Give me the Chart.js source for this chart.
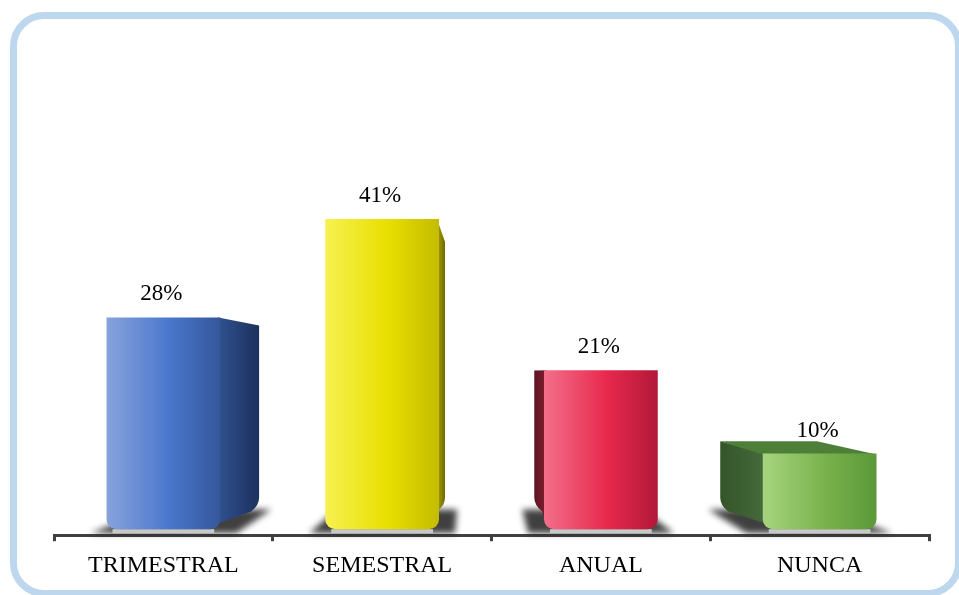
<!DOCTYPE html>
<html>
<head>
<meta charset="utf-8">
<script src="https://cdn.jsdelivr.net/npm/chart.js@4.4.0/dist/chart.umd.min.js"></script>
<style>
    html, body { margin: 0; padding: 0; background: #fff; overflow: hidden; }
    #wrap { position: relative; width: 959px; height: 595px; overflow: hidden; }
    #frame {
        position: absolute; left: 10px; top: 12px;
        width: 938px; height: 571px;
        border: 7px solid #bdd7ee; border-radius: 34px;
    }
    #myChart { position: absolute; left: 0; top: 0; }
</style>
</head>
<body>
<div id="wrap">
    <div id="frame"></div>
    <canvas id="myChart" width="959" height="595"></canvas>
</div>
<script>
(function () {
    "use strict";

    // chart data
    const categories = ['TRIMESTRAL', 'SEMESTRAL', 'ANUAL', 'NUNCA'];
    const percentages = [28, 41, 21, 10];

    // colours: front face (left, middle, right), side face (near, far), top face
    const frontColors = [
        ['#87a3dc', '#4a77cd', '#35579b'],
        ['#f7f150', '#e8df00', '#c4bc00'],
        ['#f36f8a', '#e8294d', '#b21838'],
        ['#a6d47e', '#79b24c', '#5a9838']
    ];
    const sideColors = [
        ['#2f4f8d', '#1c315d'],
        ['#9a9400', '#6f6a00'],
        ['#7a1c2c', '#5a1420'],
        ['#44693a', '#34552a']
    ];
    const topColors = ['#3d63a8', '#d8d000', '#c8203f', '#4e7f38'];

    const DEPTH = 0.85;   // back face scale toward the vanishing point

    function project(px, py, vp) {
        return [vp.x + (px - vp.x) * DEPTH, vp.y + (py - vp.y) * DEPTH];
    }

    function vanishingPoint(area) {
        return { x: area.left + area.width * 0.486, y: area.top + area.height * 0.58 };
    }

    // side faces, top faces and floor shadows, drawn behind the bars
    const boxPlugin = {
        id: 'box3d',
        beforeDatasetsDraw(chart) {
            const c = chart.ctx;
            const vp = vanishingPoint(chart.chartArea);
            const meta = chart.getDatasetMeta(0);
            meta.data.forEach(function (bar, i) {
                const p = bar.getProps(['x', 'y', 'base', 'width'], true);
                const L = p.x - p.width / 2, R = p.x + p.width / 2, T = p.y, B = p.base;
                const bl = project(L, B, vp), br = project(R, B, vp);
                const tl = project(L, T, vp), tr = project(R, T, vp);

                // floor shadow
                c.save();
                c.filter = 'blur(3px)';
                c.fillStyle = 'rgba(30,30,30,0.85)';
                c.beginPath();
                c.moveTo(L - 16, B + 4);
                c.lineTo(R + 16, B + 4);
                c.lineTo(br[0] + 12, br[1] + 4);
                c.lineTo(bl[0] - 12, bl[1] + 4);
                c.closePath();
                c.fill();
                c.restore();

                // light floor strip under the bar
                c.save();
                c.fillStyle = '#c8c8c8';
                c.fillRect(L + 6, B, R - L - 12, 4);
                c.restore();

                c.save();
                if (R < vp.x) {
                    const g = c.createLinearGradient(R, 0, tr[0], 0);
                    g.addColorStop(0, sideColors[i][0]);
                    g.addColorStop(1, sideColors[i][1]);
                    c.fillStyle = g;
                    c.beginPath();
                    c.moveTo(R - 2, T);
                    c.lineTo(tr[0], tr[1]);
                    c.lineTo(br[0], br[1] - 8);
                    c.quadraticCurveTo(br[0], br[1], br[0] - 8, br[1] + 6);
                    c.lineTo(R - 2, B - 6);
                    c.closePath();
                    c.fill();
                } else if (L > vp.x) {
                    const g = c.createLinearGradient(L, 0, tl[0], 0);
                    g.addColorStop(0, sideColors[i][0]);
                    g.addColorStop(1, sideColors[i][1]);
                    c.fillStyle = g;
                    c.beginPath();
                    c.moveTo(L + 2, T);
                    c.lineTo(tl[0], tl[1]);
                    c.lineTo(bl[0], bl[1] - 8);
                    c.quadraticCurveTo(bl[0], bl[1], bl[0] + 8, bl[1] + 6);
                    c.lineTo(L + 2, B - 6);
                    c.closePath();
                    c.fill();
                }
                if (T > vp.y) {
                    c.fillStyle = topColors[i];
                    c.beginPath();
                    c.moveTo(L, T + 1);
                    c.lineTo(R, T + 1);
                    c.lineTo(tr[0], tr[1]);
                    c.lineTo(tl[0], tl[1]);
                    c.closePath();
                    c.fill();
                }
                c.restore();
            });
        },
        afterDatasetsDraw(chart) {
            const c = chart.ctx;
            const meta = chart.getDatasetMeta(0);
            c.save();
            c.font = '23px "Liberation Serif"';
            c.fillStyle = '#000';
            c.textAlign = 'center';
            c.textBaseline = 'alphabetic';
            meta.data.forEach(function (bar, i) {
                const p = bar.getProps(['x', 'y'], true);
                c.fillText(percentages[i] + '%', p.x - 2, p.y - 17);
            });
            c.restore();
        }
    };

    function frontGradient(ctx) {
        const chart = ctx.chart;
        if (!chart.chartArea || ctx.type !== 'data') return '#888';
        const xs = chart.scales.x;
        const cx = xs.getPixelForValue(ctx.dataIndex);
        const half = xs.width / categories.length * 0.52 / 2;
        const g = chart.ctx.createLinearGradient(cx - half, 0, cx + half, 0);
        const col = frontColors[ctx.dataIndex];
        g.addColorStop(0, col[0]);
        g.addColorStop(0.55, col[1]);
        g.addColorStop(1, col[2]);
        return g;
    }

    let ctx = document.getElementById('myChart').getContext('2d');
    let chart = new Chart(ctx, {
        type: 'bar',
        data: {
            labels: categories,
            datasets: [
                {
                    label: 'Frecuencia',
                    data: percentages,
                    backgroundColor: frontGradient,
                    borderWidth: 0,
                    borderSkipped: false,
                    borderRadius: { topLeft: 0, topRight: 0, bottomLeft: 10, bottomRight: 10 },
                    categoryPercentage: 1,
                    barPercentage: 0.52
                }
            ]
        },
        options: {
            responsive: false,
            animation: false,
            layout: {
                padding: { left: 54, right: 30, top: 145, bottom: 5 }
            },
            plugins: {
                legend: { display: false },
                tooltip: { enabled: false }
            },
            scales: {
                x: {
                    z: 1,
                    grid: {
                        display: true,
                        drawOnChartArea: false,
                        drawTicks: true,
                        tickLength: 6,
                        lineWidth: 3,
                        color: '#404040',
                        offset: true
                    },
                    border: { display: true, color: '#404040', width: 3 },
                    ticks: {
                        color: '#000',
                        font: { family: 'Liberation Serif', size: 24 },
                        padding: 10,
                        maxRotation: 0
                    }
                },
                y: {
                    display: false,
                    min: -0.8,
                    max: 50.8
                }
            }
        },
        plugins: [boxPlugin]
    });
})();
</script>
</body>
</html>
